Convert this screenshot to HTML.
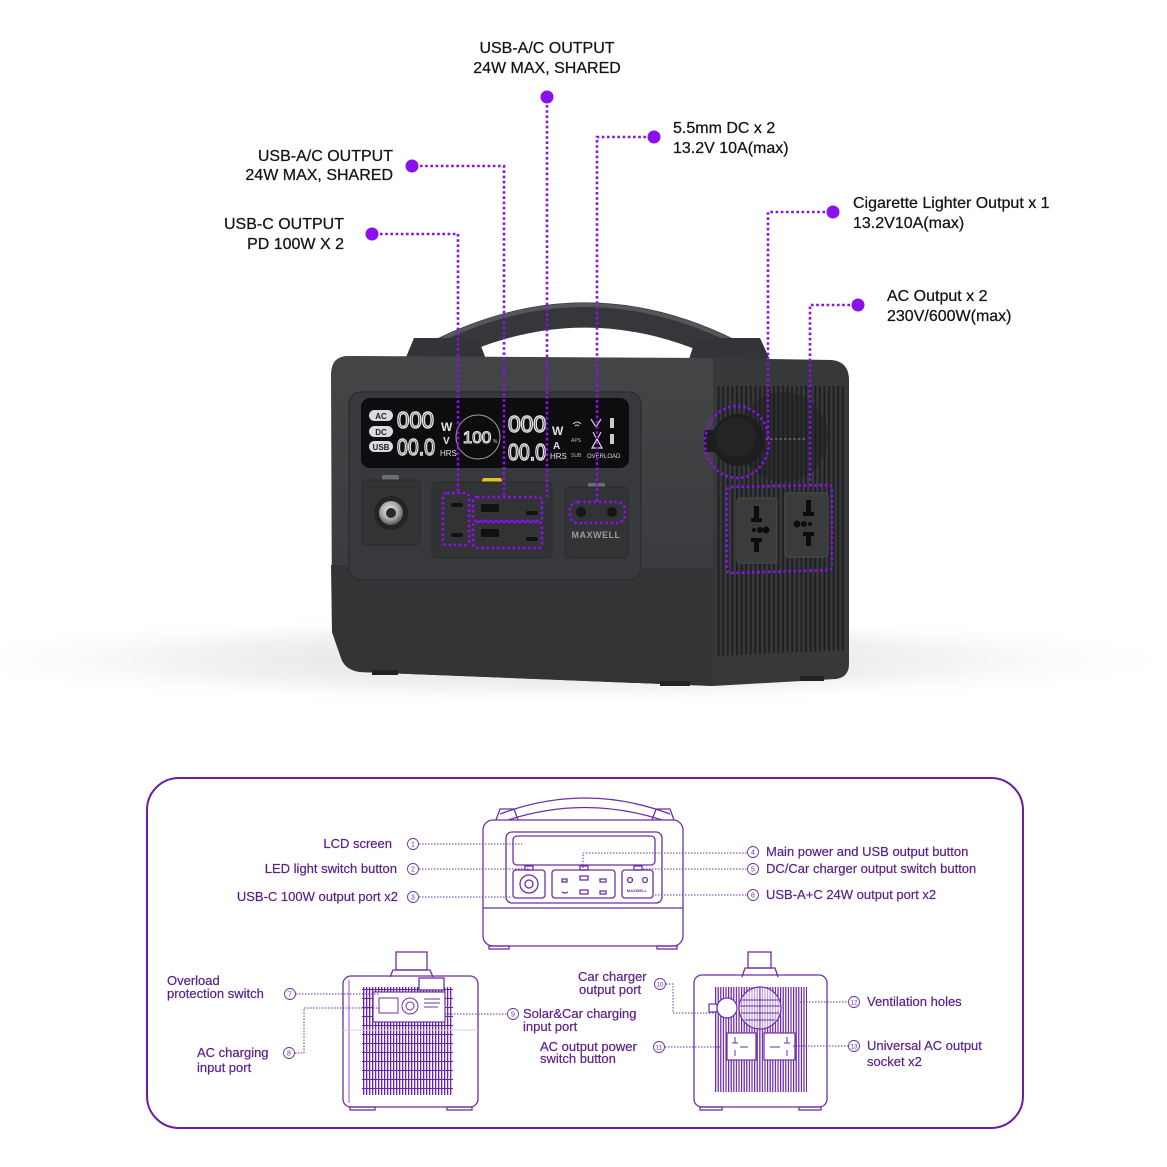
<!DOCTYPE html>
<html><head><meta charset="utf-8"><style>
html,body{margin:0;padding:0;background:#fff;}
svg{display:block;}
text{font-family:"Liberation Sans",Arial,sans-serif;}
</style></head><body>
<svg width="1167" height="1167" viewBox="0 0 1167 1167" xmlns="http://www.w3.org/2000/svg">
<defs>
  <radialGradient id="shadow" cx="0.5" cy="0.5" r="0.5">
    <stop offset="0" stop-color="#d6d6d6" stop-opacity="0.9"/>
    <stop offset="0.6" stop-color="#e6e6e6" stop-opacity="0.5"/>
    <stop offset="1" stop-color="#ffffff" stop-opacity="0"/>
  </radialGradient>
  <radialGradient id="metal" cx="0.45" cy="0.4" r="0.6">
    <stop offset="0" stop-color="#f2f2f2"/>
    <stop offset="0.6" stop-color="#a9a9a9"/>
    <stop offset="1" stop-color="#555"/>
  </radialGradient>
  <linearGradient id="frontg" x1="0" y1="0" x2="0" y2="1">
    <stop offset="0" stop-color="#444547"/>
    <stop offset="1" stop-color="#36373a"/>
  </linearGradient>
  <pattern id="ribs" width="4.6" height="10" patternUnits="userSpaceOnUse">
    <rect x="0" y="0" width="2" height="10" fill="#1f2021"/>
  </pattern>
  <pattern id="ventL" width="3" height="9" patternUnits="userSpaceOnUse">
    <rect x="0" y="0" width="1.3" height="9" fill="#6a22a8"/>
    <rect x="0" y="8" width="3" height="1" fill="#6a22a8"/>
  </pattern>
  <pattern id="ventR" width="2.6" height="10" patternUnits="userSpaceOnUse">
    <rect x="0" y="0" width="1.2" height="10" fill="#6a22a8"/>
  </pattern>
</defs>

<!-- shadow -->
<ellipse cx="560" cy="660" rx="640" ry="48" fill="url(#shadow)"/>

<!-- ============ DEVICE ============ -->
<!-- handle -->
<path d="M438,352 Q585,278 732,352" stroke="#36373a" stroke-width="25" fill="none"/>
<path d="M432,344 Q585,266 738,344" stroke="#56575a" stroke-width="4" fill="none"/>
<polygon points="404,362 414,338 478,338 487,362" fill="#333437"/>
<polygon points="688,362 696,338 760,338 771,362" fill="#333437"/>
<!-- side face -->
<path d="M713,358 L832,360 Q849,362 849,380 L849,664 Q849,677 836,679 L713,686 Z" fill="#37383a"/>
<circle cx="783" cy="437" r="45" fill="#2a2b2c"/>
<rect x="765" y="438" width="42" height="2" fill="#5c5c5c"/>
<path d="M717,386 L845,386 L845,650 L717,656 Z" fill="url(#ribs)"/>
<!-- front face -->
<path d="M348,356 L713,358 L713,686 L360,672 Q345,670 341,658 L332,632 L331,375 Q331,356 348,356 Z" fill="url(#frontg)"/>
<path d="M331,565 L713,568 L713,686 L360,672 Q345,670 341,658 L332,632 Z" fill="#333436"/>
<!-- feet -->
<rect x="372" y="670" width="26" height="5" fill="#222"/>
<rect x="660" y="681" width="30" height="5" fill="#222"/>
<rect x="800" y="676" width="24" height="5" fill="#222"/>
<!-- front panel inset -->
<rect x="349" y="392" width="292" height="188" rx="12" fill="#38393c" stroke="#2d2e30" stroke-width="1.5"/>
<!-- LCD -->
<rect x="361" y="398" width="268" height="70" rx="9" fill="#0d0d0f"/>
<rect x="369" y="410" width="24" height="11" rx="5.5" fill="#d9dae2"/>
<text x="381" y="419" font-size="8" font-weight="bold" fill="#222" text-anchor="middle">AC</text>
<rect x="369" y="426" width="24" height="11" rx="5.5" fill="#d9dae2"/>
<text x="381" y="435" font-size="8" font-weight="bold" fill="#222" text-anchor="middle">DC</text>
<rect x="369" y="441" width="24" height="11" rx="5.5" fill="#d9dae2"/>
<text x="381" y="450" font-size="8" font-weight="bold" fill="#222" text-anchor="middle">USB</text>
<text x="397" y="428" font-size="23" fill="none" stroke="#e2e2e2" stroke-width="1.4" textLength="37" lengthAdjust="spacingAndGlyphs">000</text>
<text x="397" y="455" font-size="23" fill="none" stroke="#e2e2e2" stroke-width="1.4" textLength="38" lengthAdjust="spacingAndGlyphs">00.0</text>
<text x="441" y="431" font-size="12" font-weight="bold" fill="#e2e2e2">W</text>
<text x="443" y="444" font-size="10" font-weight="bold" fill="#e2e2e2">V</text>
<text x="440" y="456" font-size="8" fill="#e2e2e2">HRS</text>
<circle cx="478" cy="437" r="22" fill="none" stroke="#9a9a9a" stroke-width="1"/>
<text x="477" y="443" font-size="17" fill="none" stroke="#e2e2e2" stroke-width="1.1" text-anchor="middle">100</text>
<text x="493" y="443" font-size="5" fill="#ccc">%</text>
<text x="508" y="432" font-size="23" fill="none" stroke="#e2e2e2" stroke-width="1.4" textLength="38" lengthAdjust="spacingAndGlyphs">000</text>
<text x="508" y="460" font-size="23" fill="none" stroke="#e2e2e2" stroke-width="1.4" textLength="38" lengthAdjust="spacingAndGlyphs">00.0</text>
<text x="552" y="435" font-size="12" font-weight="bold" fill="#e2e2e2">W</text>
<text x="553" y="449" font-size="10" font-weight="bold" fill="#e2e2e2">A</text>
<text x="550" y="459" font-size="8" fill="#e2e2e2">HRS</text>
<text x="571" y="442" font-size="5" fill="#bbb">APS</text>
<text x="571" y="457" font-size="5" fill="#bbb">SUB</text>
<text x="587" y="458" font-size="6" fill="#ddd">OVERLOAD</text>
<path d="M573,424 q4,-4 8,0 M575,426 q2,-2 4,0" stroke="#ccc" stroke-width="1" fill="none"/>
<path d="M591,419 l5,8 l5,-8 M593,432 l4,8 l4,-8" stroke="#ccc" stroke-width="1.2" fill="none"/>
<path d="M592,448 l5,-9 l5,9 z" stroke="#ddd" stroke-width="1.2" fill="none"/>
<rect x="610" y="418" width="4" height="10" fill="#ccc"/>
<rect x="610" y="434" width="4" height="10" fill="#ccc"/>
<!-- buttons -->
<rect x="382" y="475" width="17" height="7" rx="1.5" fill="#6b6e73"/>
<rect x="482" y="478" width="20" height="12" rx="2.5" fill="#e6c11c"/>
<rect x="588" y="483" width="17" height="9" rx="1.5" fill="#6b6e73"/>
<!-- port modules -->
<rect x="362" y="480" width="58" height="65" rx="4" fill="#323335" stroke="#2a2b2c"/>
<circle cx="391" cy="513" r="17" fill="#232425"/>
<circle cx="391" cy="513" r="12" fill="url(#metal)"/>
<circle cx="391" cy="513" r="5" fill="#2a2a2a"/>
<rect x="432" y="482" width="120" height="76" rx="4" fill="#323335" stroke="#2a2b2c"/>
<rect x="451" y="503" width="12" height="4" rx="2" fill="#111"/>
<rect x="451" y="533" width="12" height="4" rx="2" fill="#111"/>
<rect x="481" y="504" width="18" height="8" rx="1" fill="#111"/>
<rect x="481" y="529" width="18" height="8" rx="1" fill="#111"/>
<rect x="526" y="511" width="12" height="4" rx="2" fill="#111"/>
<rect x="526" y="537" width="12" height="4" rx="2" fill="#111"/>
<rect x="565" y="487" width="63" height="71" rx="4" fill="#323335" stroke="#2a2b2c"/>
<circle cx="581" cy="512" r="5" fill="#161616"/>
<circle cx="612" cy="512" r="5" fill="#161616"/>
<text x="596" y="538" font-size="9" font-weight="bold" fill="#9a9b9e" text-anchor="middle" letter-spacing="0.5">MAXWELL</text>
<!-- side: cigarette lighter and sockets -->
<rect x="704" y="430" width="14" height="22" rx="3" fill="#1c1d1e"/>
<circle cx="738" cy="440" r="26" fill="#1d1e1f"/>
<circle cx="736" cy="437" r="20" fill="#232425"/>
<rect x="737" y="498" width="40" height="65" rx="3" fill="#3a3b3d" stroke="#4b4c4f"/>
<rect x="785" y="493" width="43" height="64" rx="3" fill="#3a3b3d" stroke="#4b4c4f"/>
<g fill="#0c0c0c">
  <rect x="754" y="506" width="5" height="14"/><rect x="751" y="518" width="11" height="4"/>
  <circle cx="754" cy="530" r="2"/><circle cx="760" cy="530" r="3"/><circle cx="766" cy="530" r="3.5"/>
  <rect x="754" y="538" width="5" height="14"/><rect x="751" y="538" width="11" height="4"/>
  <rect x="806" y="500" width="5" height="14"/><rect x="803" y="512" width="11" height="4"/>
  <circle cx="797" cy="524" r="3.5"/><circle cx="804" cy="524" r="3"/><circle cx="810" cy="524" r="2"/>
  <rect x="806" y="532" width="5" height="14"/><rect x="803" y="532" width="11" height="4"/>
</g>

<!-- ============ ANNOTATIONS ============ -->
<g stroke="#8a10ef" stroke-width="2.6" fill="none" stroke-dasharray="2.6 2.6">
  <path d="M380,234 L458,234 L458,493"/>
  <path d="M420,166 L504,166 L504,497"/>
  <path d="M547,105 L547,497"/>
  <path d="M646,137 L597,137 L597,502"/>
  <path d="M825,212 L768,212 L768,440"/>
  <path d="M850,305 L810,305 L810,485"/>
  <rect x="443" y="493" width="26" height="52" rx="4"/>
  <rect x="473" y="497" width="69" height="24" rx="4"/>
  <rect x="473" y="522" width="69" height="26" rx="4"/>
  <rect x="570" y="502" width="55" height="21" rx="8"/>
  <ellipse cx="737" cy="442" rx="32" ry="36"/>
  <path d="M731,487 L828,485 Q832,485 832,489 L832,566 Q832,570 828,570 L731,573 Q727,573 727,569 L727,491 Q727,487 731,487 Z"/>
</g>
<g fill="#8a10ef">
  <circle cx="547" cy="97" r="6.5"/>
  <circle cx="412" cy="166" r="6.5"/>
  <circle cx="372" cy="234" r="6.5"/>
  <circle cx="654" cy="137" r="6.5"/>
  <circle cx="833" cy="212" r="6.5"/>
  <circle cx="858" cy="305" r="6.5"/>
</g>
<g font-size="16" fill="#141414" stroke="#141414" stroke-width="0.25">
  <text x="547" y="53" text-anchor="middle">USB-A/C OUTPUT</text>
  <text x="547" y="73" text-anchor="middle">24W MAX, SHARED</text>
  <text x="393" y="161" text-anchor="end">USB-A/C OUTPUT</text>
  <text x="393" y="180" text-anchor="end">24W MAX, SHARED</text>
  <text x="344" y="229" text-anchor="end">USB-C OUTPUT</text>
  <text x="344" y="249" text-anchor="end">PD 100W X 2</text>
  <text x="673" y="133">5.5mm DC x 2</text>
  <text x="673" y="153">13.2V 10A(max)</text>
  <text x="853" y="208">Cigarette Lighter Output x 1</text>
  <text x="853" y="228">13.2V10A(max)</text>
  <text x="887" y="301">AC Output x 2</text>
  <text x="887" y="321">230V/600W(max)</text>
</g>

<!-- ============ LOWER PANEL ============ -->
<rect x="147" y="778" width="876" height="350" rx="32" fill="none" stroke="#6a1fa0" stroke-width="2"/>

<g stroke="#6d2fa5" stroke-width="1.3" fill="none">
  <!-- front view -->
  <path d="M500,814 Q585,782 670,814"/>
  <path d="M508,820 Q585,795 662,820"/>
  <path d="M496,820 L500,809 L514,809 L518,820"/>
  <path d="M652,820 L656,809 L670,809 L674,820"/>
  <rect x="483" y="820" width="200" height="126" rx="10"/>
  <rect x="506" y="832" width="156" height="71" rx="6"/>
  <rect x="513" y="836" width="142" height="29" rx="4"/>
  <line x1="483" y1="908" x2="683" y2="908"/>
  <rect x="513" y="870" width="32" height="28" rx="3"/>
  <rect x="552" y="870" width="63" height="28" rx="3"/>
  <rect x="622" y="870" width="31" height="28" rx="3"/>
  <circle cx="529" cy="884" r="9"/>
  <circle cx="529" cy="884" r="4"/>
  <rect x="525" y="866" width="8" height="4"/>
  <rect x="580" y="866" width="8" height="4"/>
  <rect x="634" y="866" width="8" height="4"/>
  <rect x="562" y="879" width="5" height="3"/>
  <path d="M562,892 q3,2 6,0"/>
  <rect x="580" y="876" width="8" height="4"/>
  <rect x="580" y="890" width="8" height="4"/>
  <rect x="600" y="879" width="6" height="3"/>
  <rect x="600" y="891" width="6" height="3"/>
  <circle cx="630" cy="880" r="2.5"/>
  <circle cx="645" cy="880" r="2.5"/>
  <rect x="489" y="946" width="20" height="3"/>
  <rect x="657" y="946" width="20" height="3"/>
</g>
<text x="637" y="892" font-size="4" fill="#6d2fa5" text-anchor="middle" font-weight="bold">MAXWELL</text>

<!-- left side view -->
<rect x="362" y="987" width="91" height="108" fill="url(#ventL)"/>
<g stroke="#6d2fa5" stroke-width="1.3" fill="none">
  <rect x="396" y="952" width="31" height="18"/>
  <path d="M390,977 L393,970 L430,970 L433,977"/>
  <rect x="343" y="976" width="135" height="131" rx="8"/>
  <line x1="349" y1="980" x2="349" y2="1103" stroke-width="0.8"/>
  <rect x="350" y="1107" width="25" height="3"/>
  <rect x="447" y="1107" width="25" height="3"/>
  <rect x="419" y="978" width="25" height="12" fill="#fff"/>
</g>
<rect x="373" y="992" width="72" height="30" fill="#fff" stroke="#6d2fa5" stroke-width="1.2"/>
<g stroke="#6d2fa5" stroke-width="1" fill="none">
  <rect x="379" y="998" width="19" height="15"/>
  <circle cx="410" cy="1006" r="8"/>
  <circle cx="410" cy="1006" r="4"/>
  <line x1="424" y1="999" x2="440" y2="999"/><line x1="424" y1="1003" x2="440" y2="1003"/><line x1="424" y1="1007" x2="438" y2="1007"/>
</g>
<line x1="343" y1="1030" x2="478" y2="1030" stroke="#d8c8e8" stroke-width="1"/>

<!-- right side view -->
<rect x="714" y="987" width="93" height="105" fill="url(#ventR)"/>
<g stroke="#6d2fa5" stroke-width="1.3" fill="none">
  <rect x="748" y="952" width="23" height="16"/>
  <path d="M742,977 L745,968 L775,968 L778,977"/>
  <rect x="694" y="975" width="133" height="132" rx="8"/>
  <rect x="700" y="1107" width="22" height="3"/>
  <rect x="799" y="1107" width="22" height="3"/>
</g>
<circle cx="760" cy="1008" r="21" fill="#fff" fill-opacity="0.55" stroke="#6d2fa5" stroke-width="1.2"/>
<g stroke="#6d2fa5" stroke-width="1">
  <line x1="742" y1="1000" x2="778" y2="1000"/><line x1="740" y1="1006" x2="780" y2="1006"/><line x1="741" y1="1013" x2="779" y2="1013"/><line x1="745" y1="1020" x2="775" y2="1020"/>
  <line x1="760" y1="987" x2="760" y2="1092"/>
</g>
<rect x="709" y="1004" width="8" height="8" fill="#fff" stroke="#6d2fa5" stroke-width="1.2"/>
<circle cx="727" cy="1008" r="10" fill="#fff" stroke="#6d2fa5" stroke-width="1.2"/>
<rect x="727" y="1033" width="29" height="27" fill="#fff" stroke="#6d2fa5" stroke-width="1.2"/>
<rect x="764" y="1033" width="31" height="27" fill="#fff" stroke="#6d2fa5" stroke-width="1.2"/>
<g stroke="#6d2fa5" stroke-width="1" fill="none">
  <path d="M735,1037 v6 M732,1043 h6 M740,1047 h8 M735,1050 v6"/>
  <path d="M787,1037 v6 M784,1043 h6 M770,1047 h10 M787,1050 v6"/>
</g>

<!-- leader lines -->
<g stroke="#6d2fa5" stroke-width="1" fill="none" stroke-dasharray="1.5 1.5">
  <path d="M419,844 L522,844"/>
  <path d="M419,869 L530,869"/>
  <path d="M419,897 L512,897"/>
  <path d="M583,868 L583,853 L747,853"/>
  <path d="M643,869 L747,869"/>
  <path d="M655,895 L747,895"/>
  <path d="M296,994 L380,994"/>
  <path d="M295,1053 L304,1053 L304,1008 L380,1008"/>
  <path d="M445,1014 L507,1014"/>
  <path d="M666,984 L673,984 L673,1013 L717,1013"/>
  <path d="M665,1047 L722,1047"/>
  <path d="M800,1002 L848,1002"/>
  <path d="M793,1046 L848,1046"/>
</g>
<!-- circled numbers -->
<g stroke="#6d2fa5" stroke-width="0.9" fill="#fff">
  <circle cx="413" cy="844" r="5.5"/><circle cx="413" cy="869" r="5.5"/><circle cx="413" cy="897" r="5.5"/>
  <circle cx="753" cy="852" r="5.5"/><circle cx="753" cy="869" r="5.5"/><circle cx="753" cy="895" r="5.5"/>
  <circle cx="290" cy="994" r="5.5"/><circle cx="289" cy="1053" r="5.5"/><circle cx="513" cy="1014" r="5.5"/>
  <circle cx="660" cy="984" r="5.5"/><circle cx="659" cy="1047" r="5.5"/><circle cx="854" cy="1002" r="5.5"/><circle cx="854" cy="1046" r="5.5"/>
</g>
<g font-size="7" fill="#6d2fa5" text-anchor="middle">
  <text x="413" y="846.5">1</text><text x="413" y="871.5">2</text><text x="413" y="899.5">3</text>
  <text x="753" y="854.5">4</text><text x="753" y="871.5">5</text><text x="753" y="897.5">6</text>
  <text x="290" y="996.5">7</text><text x="289" y="1055.5">8</text><text x="513" y="1016.5">9</text>
  <text x="660" y="986.5" font-size="6">10</text><text x="659" y="1049.5" font-size="6">11</text><text x="854" y="1004.5" font-size="6">12</text><text x="854" y="1048.5" font-size="6">13</text>
</g>
<!-- labels -->
<g font-size="13" fill="#5b2189" stroke="#5b2189" stroke-width="0.2">
  <text x="392" y="848" text-anchor="end">LCD screen</text>
  <text x="397" y="873" text-anchor="end">LED light switch button</text>
  <text x="398" y="901" text-anchor="end">USB-C 100W output port x2</text>
  <text x="766" y="856">Main power and USB output button</text>
  <text x="766" y="873">DC/Car charger output switch button</text>
  <text x="766" y="899">USB-A+C 24W output port x2</text>
  <text x="167" y="985">Overload</text>
  <text x="167" y="998">protection switch</text>
  <text x="197" y="1057">AC charging</text>
  <text x="197" y="1072">input port</text>
  <text x="523" y="1018">Solar&amp;Car charging</text>
  <text x="523" y="1031">input port</text>
  <text x="578" y="981">Car charger</text>
  <text x="579" y="994">output port</text>
  <text x="540" y="1051">AC output power</text>
  <text x="540" y="1063">switch button</text>
  <text x="867" y="1006">Ventilation holes</text>
  <text x="867" y="1050">Universal AC output</text>
  <text x="867" y="1066">socket x2</text>
</g>
</svg>
</body></html>
